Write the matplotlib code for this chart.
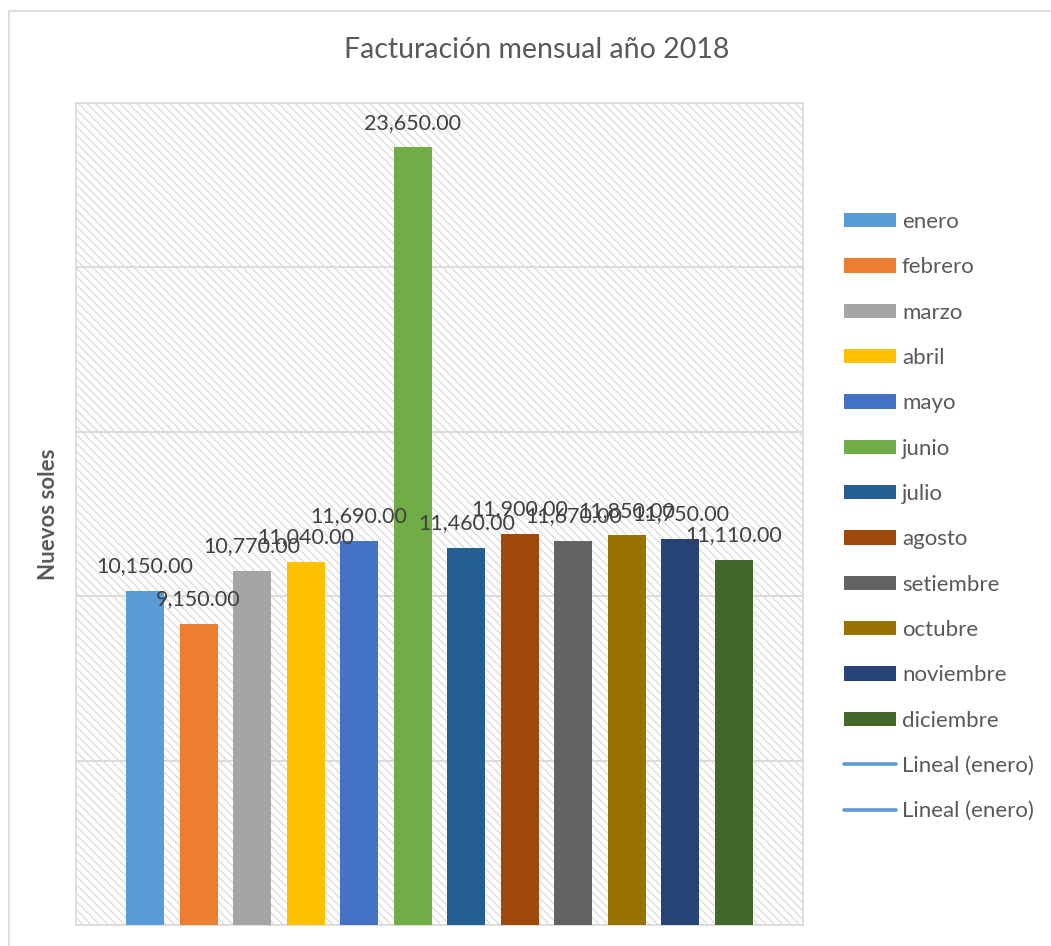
import matplotlib.pyplot as plt
from matplotlib.patches import Rectangle

plt.rcParams['font.family'] = ['Lato', 'DejaVu Sans']
plt.rcParams['hatch.color'] = '#dadada'
plt.rcParams['hatch.linewidth'] = 0.9

# Facturación por mes (una serie por mes, como en la hoja)
meses = ["enero", "febrero", "marzo", "abril", "mayo", "junio", "julio",
         "agosto", "setiembre", "octubre", "noviembre", "diciembre"]
montos = [10150, 9150, 10770, 11040, 11690, 23650, 11460,
          11900, 11670, 11850, 11750, 11110]
colores = ["#5B9BD5", "#ED7D31", "#A5A5A5", "#FFC000", "#4472C4", "#70AD47",
           "#255E91", "#9E480E", "#636363", "#997300", "#264478", "#43682B"]
tendencias = ["Lineal (enero)", "Lineal (enero)"]

fig = plt.figure(figsize=(10.51, 9.46), dpi=100)
ax = fig.add_axes([76 / 1051, 1 - 925 / 946, 727 / 1051, 822 / 946])

# fondo rayado del área de trazado
ax.add_patch(Rectangle((0, 0), 1, 1, transform=ax.transAxes,
                       facecolor="white", edgecolor="#dadada", lw=0,
                       hatch="\\\\\\\\", zorder=0))

handles = []
for i, (mes, monto, color) in enumerate(zip(meses, montos, colores)):
    b = ax.bar(i, monto, width=0.71, color=color, label=mes, zorder=3)
    handles.append(b)
    ax.annotate(f"{monto:,.2f}", (i, monto), xytext=(0, 13.5),
                textcoords="offset points", ha="center", va="baseline",
                fontsize=15.5, color="#404040", zorder=4)

# líneas de tendencia de enero (un solo punto, no se ven en el gráfico)
for t in tendencias:
    ln, = ax.plot([], [], color="#5B9BD5", lw=2.6, label=t,
                  solid_capstyle="round")
    handles.append(ln)

ax.set_xlim(-1.29, len(meses) - 1 + 1.29)
ax.set_ylim(0, 25000)
ax.set_yticks(range(0, 25001, 5000))
ax.set_xticks([])
ax.tick_params(left=False, labelleft=False)
ax.yaxis.grid(True, color="#d9d9d9", lw=1.3, zorder=1)
for s in ax.spines.values():
    s.set_color("#d9d9d9")
    s.set_linewidth(1.2)

ax.set_ylabel("Nuevos soles", fontsize=16, fontweight="bold", color="#595959",
              labelpad=12)

fig.text(537 / 1051, 1 - 50 / 946, "Facturación mensual año 2018",
         ha="center", va="center", fontsize=20.5, color="#595959")

fig.legend(handles=handles, labels=meses + tendencias,
           loc="upper left", bbox_to_anchor=(844 / 1051, 1 - 212 / 946),
           frameon=False, fontsize=16, labelcolor="#595959",
           handlelength=2.34, handleheight=0.63, handletextpad=0.27,
           labelspacing=1.14, borderpad=0, borderaxespad=0)

# borde del gráfico
fig.add_artist(Rectangle((9 / 1051, -0.1), 1.2, 1.1 - 11 / 946,
                         transform=fig.transFigure, fill=False,
                         edgecolor="#d9d9d9", lw=1.2))

fig.savefig("out.png", dpi=100)
